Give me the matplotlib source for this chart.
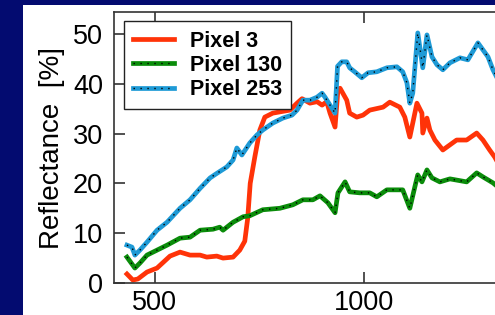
import matplotlib
matplotlib.use("Agg")
import matplotlib.pyplot as plt
from matplotlib.lines import Line2D
from matplotlib.patches import Rectangle

plt.rcParams['font.family'] = ['Liberation Sans', 'DejaVu Sans']

# wavelength [nm] / reflectance [%]
x_pix3 = [433, 447, 459, 481, 505, 536, 560, 584, 608, 624, 648, 663, 687, 703,
          715, 722, 728, 739, 751, 763, 782, 823, 840, 852, 871, 888, 900, 911,
          919, 931, 938, 943, 959, 966, 983, 998, 1014, 1046, 1062, 1086, 1098,
          1110, 1117, 1127, 1139, 1141, 1151, 1158, 1170, 1189, 1222, 1246,
          1270, 1285, 1301, 1313, 1325]
y_pix3 = [1.8, 0.6, 0.8, 2.2, 3.0, 5.4, 6.2, 5.6, 5.6, 5.2, 5.4, 5.0, 5.2, 6.6,
          8.4, 13.0, 20.0, 25.3, 30.7, 33.3, 34.1, 34.7, 36.1, 37.0, 36.1, 36.4,
          35.7, 36.4, 34.1, 31.3, 38.8, 39.1, 36.7, 34.1, 33.3, 33.7, 34.7, 35.3,
          36.3, 35.3, 33.3, 29.3, 32.1, 36.1, 34.1, 30.1, 33.1, 30.7, 28.7, 26.7,
          28.7, 28.7, 30.1, 28.7, 26.7, 25.3, 23.5]

x_pix130 = [433, 452, 464, 481, 505, 529, 560, 584, 608, 639, 655, 663, 687,
            711, 727, 758, 799, 830, 854, 878, 895, 914, 931, 938, 955, 966,
            990, 1014, 1031, 1055, 1093, 1110, 1122, 1129, 1139, 1151, 1163,
            1182, 1206, 1246, 1270, 1285, 1309, 1325]
y_pix130 = [5.2, 3.0, 4.0, 5.6, 6.6, 7.6, 9.0, 9.2, 10.6, 10.8, 11.2, 10.6,
            12.2, 13.3, 13.5, 14.7, 15.0, 15.7, 16.7, 16.7, 17.5, 16.1, 14.1,
            18.1, 20.3, 18.3, 18.1, 18.1, 17.3, 18.7, 18.7, 15.0, 19.3, 21.7,
            20.3, 22.7, 21.1, 20.3, 20.9, 20.3, 22.1, 21.3, 20.1, 19.0]

x_pix253 = [433, 445, 452, 464, 481, 505, 529, 560, 584, 608, 632, 648, 672,
            687, 696, 708, 727, 744, 758, 782, 806, 828, 840, 854, 871, 888,
            900, 907, 919, 931, 937, 947, 959, 966, 978, 995, 1010, 1031, 1055,
            1079, 1093, 1103, 1110, 1117, 1129, 1141, 1151, 1163, 1175, 1189,
            1206, 1230, 1249, 1273, 1285, 1297, 1309, 1320]
y_pix253 = [7.6, 7.2, 5.6, 6.6, 8.2, 10.6, 12.2, 15.0, 16.7, 19.0, 21.1, 22.0,
            23.3, 24.7, 27.1, 25.7, 28.1, 29.7, 30.7, 32.1, 33.1, 33.7, 34.7,
            36.7, 36.7, 37.3, 38.1, 37.3, 35.7, 34.1, 43.5, 44.4, 44.4, 43.2,
            42.4, 41.2, 42.2, 42.4, 43.2, 43.4, 42.4, 40.2, 36.1, 38.1, 50.2,
            43.2, 49.8, 45.4, 43.8, 42.8, 44.2, 45.2, 44.8, 48.2, 46.8, 45.4,
            42.8, 41.0]

labels = ["Pixel 3", "Pixel 130", "Pixel 253"]
red, green, blue = "#ff3308", "#0a8c0a", "#1e9ad6"

fig = plt.figure(figsize=(4.95, 3.15), dpi=100, facecolor="#030b70")
fig.patches.append(Rectangle((23 / 495, 0), 1, 1 - 5 / 315,
                             transform=fig.transFigure, facecolor="white",
                             edgecolor="none", zorder=-10))

ax = fig.add_axes([114 / 495, 32 / 315, 417 / 495, 271 / 315])
ax.set_facecolor("white")

lw = 3.4
dots = (0, (1, 4))
ax.plot(x_pix3, y_pix3, color=red, lw=lw)
ax.plot(x_pix130, y_pix130, color=green, lw=lw)
ax.plot(x_pix130, y_pix130, color="black", lw=1.0, ls=dots)
ax.plot(x_pix253, y_pix253, color=blue, lw=lw)
ax.plot(x_pix253, y_pix253, color="black", lw=1.0, ls=dots)

ax.set_xlim(402, 1400)
ax.set_ylim(0, 54.4)
ax.set_xticks([500, 1000])
ax.set_yticks([0, 10, 20, 30, 40, 50])
ax.tick_params(direction="in", length=8, width=1.2, color="#333333",
               labelsize=19.5, top=True, pad=8)
ax.tick_params(axis="x", pad=5)
for side in ["left", "bottom", "top"]:
    ax.spines[side].set_color("#333333")
    ax.spines[side].set_linewidth(1.2)
ax.spines["right"].set_visible(False)

fig.text(52 / 495, 1 - 148 / 315, "Reflectance  [%]", rotation=90,
         ha="center", va="center", fontsize=20)

handles = [
    Line2D([], [], color=red, lw=lw),
    (Line2D([], [], color=green, lw=lw),
     Line2D([], [], color="black", lw=1.0, ls=dots)),
    (Line2D([], [], color=blue, lw=lw),
     Line2D([], [], color="black", lw=1.0, ls=dots)),
]
leg = ax.legend(handles, labels, loc="upper left",
                bbox_to_anchor=(0.024, 0.965), borderaxespad=0,
                fancybox=False, framealpha=1, edgecolor="#222222",
                prop={"weight": "bold", "size": 15.5}, handlelength=1.9,
                handletextpad=0.75, labelspacing=0.16, borderpad=0.42)
leg.get_frame().set_linewidth(1.0)

fig.savefig("out.png", dpi=100, facecolor=fig.get_facecolor())
